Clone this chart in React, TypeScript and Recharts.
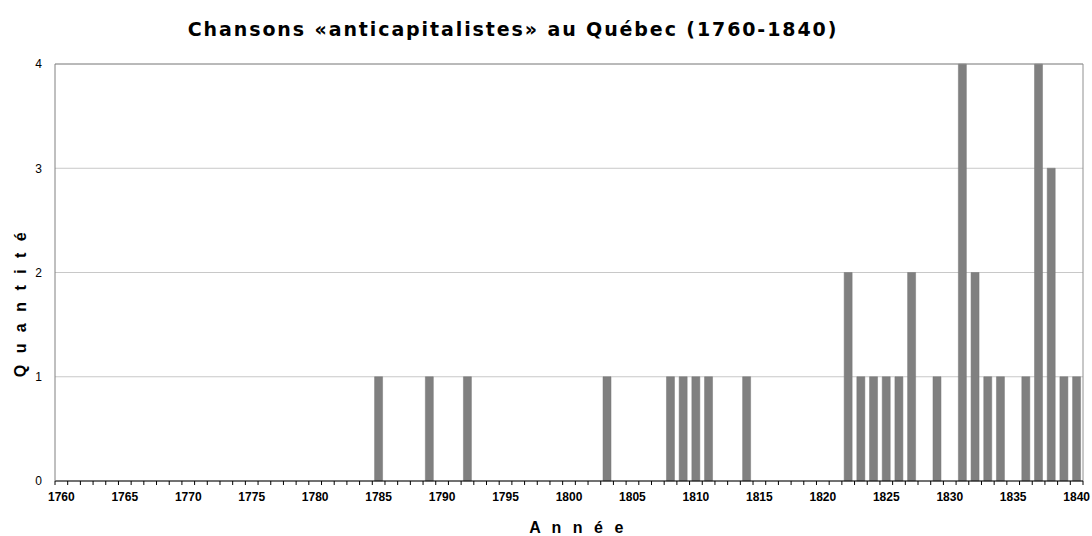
import { Bar, BarChart, CartesianGrid, ReferenceLine, XAxis, YAxis } from 'recharts'

const years = [
  '1760', '1761', '1762', '1763', '1764', '1765', '1766', '1767', '1768', '1769',
  '1770', '1771', '1772', '1773', '1774', '1775', '1776', '1777', '1778', '1779',
  '1780', '1781', '1782', '1783', '1784', '1785', '1786', '1787', '1788', '1789',
  '1790', '1791', '1792', '1793', '1794', '1795', '1796', '1797', '1798', '1799',
  '1800', '1801', '1802', '1803', '1804', '1805', '1806', '1807', '1808', '1809',
  '1810', '1811', '1812', '1813', '1814', '1815', '1816', '1817', '1818', '1819',
  '1820', '1821', '1822', '1823', '1824', '1825', '1826', '1827', '1828', '1829',
  '1830', '1831', '1832', '1833', '1834', '1835', '1836', '1837', '1838', '1839',
  '1840',
]

const songs = [
  0, 0, 0, 0, 0, 0, 0, 0, 0, 0,
  0, 0, 0, 0, 0, 0, 0, 0, 0, 0,
  0, 0, 0, 0, 0, 1, 0, 0, 0, 1,
  0, 0, 1, 0, 0, 0, 0, 0, 0, 0,
  0, 0, 0, 1, 0, 0, 0, 0, 1, 1,
  1, 1, 0, 0, 1, 0, 0, 0, 0, 0,
  0, 0, 2, 1, 1, 1, 1, 2, 0, 1,
  0, 4, 2, 1, 1, 0, 1, 4, 3, 1,
  1,
]

const labeledYears = ['1760', '1765', '1770', '1775', '1780', '1785', '1790', '1795', '1800',
  '1805', '1810', '1815', '1820', '1825', '1830', '1835', '1840']

const yTicks = [0, 1, 2, 3, 4]

const data = years.map((y, i) => ({ annee: y, quantite: songs[i] }))

const W = 1092
const H = 536
const PLOT_LEFT = 55
const PLOT_RIGHT = 1083
const band = (PLOT_RIGHT - PLOT_LEFT) / years.length
const sans = "'Liberation Sans', Arial, sans-serif"

function YearTick(props: any) {
  const { x, y, payload, index } = props
  const last = index === years.length - 1
  return (
    <g>
      <line x1={x - band / 2} x2={x - band / 2} y1={y} y2={y + 4} stroke="#000" />
      {last && <line x1={x + band / 2} x2={x + band / 2} y1={y} y2={y + 4} stroke="#000" />}
      {labeledYears.includes(payload.value) && (
        <text x={x} y={y + 20} textAnchor="middle" fontSize={12} fontWeight="bold"
          fontFamily={sans} fill="#000">
          {payload.value}
        </text>
      )}
    </g>
  )
}

export default function App() {
  return (
    <div style={{ position: 'absolute', left: 0, top: 0, width: W, height: H, background: '#fff' }}>
      <BarChart width={W} height={H} data={data}
        margin={{ top: 64, right: W - PLOT_RIGHT, bottom: 0, left: 0 }}
        barCategoryGap="18%">
        <text x={513} y={36} textAnchor="middle" fontSize={19} fontWeight="bold" letterSpacing={1.9}
          fontFamily="'DejaVu Sans', Verdana, sans-serif" fill="#000">
          Chansons «anticapitalistes» au Québec (1760-1840)
        </text>
        <CartesianGrid vertical={false} stroke="#c8c8c8" />
        <CartesianGrid horizontal={false} stroke="#909090"
          verticalCoordinatesGenerator={({ offset }: any) => [offset.left + offset.width]} />
        <XAxis dataKey="annee" interval={0} height={55} tickSize={0} tickMargin={0}
          tickLine={false} axisLine={{ stroke: '#000' }} tick={<YearTick />} />
        <YAxis domain={[0, 4]} ticks={yTicks} width={PLOT_LEFT} tickSize={0} tickMargin={13}
          tickLine={false} axisLine={{ stroke: '#808080' }}
          tick={{ fontSize: 12, fill: '#000', fontFamily: sans }} />
        <ReferenceLine y={4} stroke="#909090" />
        <Bar dataKey="quantite" fill="#808080" stroke="#777" strokeWidth={0.5} isAnimationActive={false} />
        <text x={578} y={533} textAnchor="middle" fontSize={16} fontWeight="bold" letterSpacing={3.5}
          fontFamily={sans} fill="#000">
          A n n é e
        </text>
        <text x={26} y={303} textAnchor="middle" fontSize={16} fontWeight="bold" letterSpacing={3.5}
          transform="rotate(-90 26 303)" fontFamily={sans} fill="#000">
          Q u a n t i t é
        </text>
      </BarChart>
    </div>
  )
}
